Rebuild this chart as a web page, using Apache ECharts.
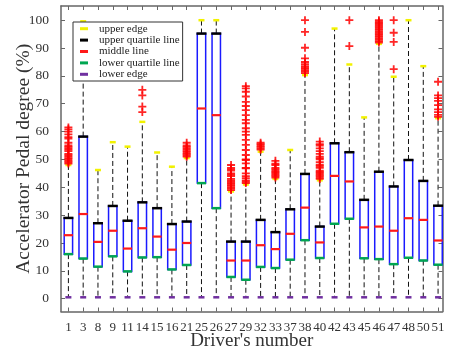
<!DOCTYPE html>
<html>
<head>
<meta charset="utf-8">
<script src="https://cdn.jsdelivr.net/npm/echarts@6/dist/echarts.min.js"></script>
<style>
  html, body { margin: 0; padding: 0; background: #fff; }
  #chart { width: 450px; height: 350px; }
</style>
</head>
<body>
<div id="chart"></div>
<script>
// Drivers along the x axis
const drivers = ['1','3','8','9','11','14','15','16','21','25','26','27','29','32','33','37','38','40','42','43','45','46','47','48','50','51'];

// Box statistics per driver (accelerator pedal degree, %)
const upperEdge     = [48.0, 99.6, 46.2, 56.2, 54.6, 63.5, 52.5, 47.4, 50.5, 100, 100, 38.5, 41.0, 52.8, 43.0, 53.4, 80.3, 42.5, 97.0, 84.1, 65.1, 91.5, 79.7, 100, 83.5, 64.8];
const upperQuartile = [29.0, 58.2, 27.1, 33.3, 28.0, 34.6, 32.5, 26.8, 27.7, 95.2, 95.2, 20.5, 20.5, 28.3, 23.9, 32.1, 44.8, 25.9, 55.8, 52.6, 35.5, 45.6, 40.3, 49.8, 42.3, 33.4];
const median        = [22.8, 30.4, 20.4, 24.4, 18.0, 25.3, 22.3, 17.6, 20.0, 68.3, 65.9, 13.7, 13.7, 19.2, 17.8, 23.3, 32.7, 20.2, 44.1, 42.1, 25.6, 25.9, 24.4, 28.9, 28.3, 20.9];
const lowerQuartile = [16.0, 14.4, 11.5, 15.2,  9.8, 14.8, 14.9, 10.5, 12.1, 41.5, 32.5,  7.8,  6.8, 11.4, 11.0, 14.0, 21.0, 14.6, 26.9, 28.7, 14.5, 14.2, 12.4, 14.7, 13.7, 12.2];
const lowerEdge     = [0.5, 0.5, 0.5, 0.5, 0.5, 0.5, 0.5, 0.5, 0.5, 0.5, 0.5, 0.5, 0.5, 0.5, 0.5, 0.5, 0.5, 0.5, 0.5, 0.5, 0.5, 0.5, 0.5, 0.5, 0.5, 0.5];

// Outlying samples per driver (same order as drivers)
const outliers = [
  [61.5, 60.8, 60, 59, 58, 57.5, 56, 55, 54.5, 54, 53.5, 53, 52, 51.5, 51, 50.5, 50, 49.5, 49, 48.5],
  [], [], [], [],
  [75, 73, 69, 67],
  [], [],
  [56, 55, 54.5, 54, 53.5, 53, 52.5, 52, 51.5, 51],
  [], [],
  [48, 47, 46.5, 46, 45, 44.5, 44, 43, 42.5, 42, 41.5, 41, 40.5, 40, 39.5, 39],
  [76.3, 75.5, 74.3, 72.6, 70.7, 69.2, 67.7, 65.9, 64.2, 63, 61.2, 60, 58.8, 57, 55.2, 53.4, 51.6, 50, 49.8, 48.6, 47, 46.8, 45, 44, 43.3, 42.5, 42, 41.5],
  [56, 55.5, 55, 54.5, 54, 53.5],
  [49.5, 48.5, 48, 47, 46.5, 46, 45.5, 45, 44.5, 44, 43.5],
  [],
  [100, 95.8, 90.1, 86.3, 85, 84.2, 83.5, 83, 82.5, 82, 81.5, 81],
  [56.4, 55.5, 55, 54, 53, 52, 51, 50.5, 50, 49, 48, 47.5, 47, 46, 45.5, 45, 44.5, 44, 43.5, 43],
  [],
  [100, 90.7],
  [],
  [100, 99.5, 99, 98.5, 98, 97.5, 97, 96.5, 96, 95.5, 95, 94.5, 94, 93.5, 93, 92.5, 92],
  [100, 95.5, 92.2, 82.4],
  [], [],
  [77.9, 73, 72, 71, 69.5, 68, 67, 66, 65.3]
];

const yTicks = [0, 10, 20, 30, 40, 50, 60, 70, 80, 90, 100];
const xTicks = drivers.map((d, i) => i + 1);

const SERIF = 'Liberation Serif, Times New Roman, serif';
const FRAME = '#666';

// Blue box with dashed whiskers
const boxData = drivers.map((d, i) => [i + 1, upperEdge[i], upperQuartile[i], median[i], lowerQuartile[i], lowerEdge[i]]);

function renderBox(params, api) {
  const x = api.value(0);
  const pUE = api.coord([x, api.value(1)]);
  const pQ3 = api.coord([x, api.value(2)]);
  const pQ1 = api.coord([x, api.value(4)]);
  const pLE = api.coord([x, api.value(5)]);
  const half = 4.2;
  const dash = { stroke: '#111', lineWidth: 1, lineDash: [5, 3] };
  return {
    type: 'group',
    children: [
      { type: 'line', shape: { x1: pQ3[0], y1: pQ3[1], x2: pUE[0], y2: pUE[1] }, style: dash },
      { type: 'line', shape: { x1: pQ1[0], y1: pQ1[1], x2: pLE[0], y2: pLE[1] }, style: dash },
      { type: 'rect', shape: { x: pQ3[0] - half, y: pQ3[1], width: half * 2, height: pQ1[1] - pQ3[1] },
        style: { fill: 'none', stroke: '#1a1aff', lineWidth: 1.5 } }
    ]
  };
}

// Short coloured bar marking one statistic on every box
function capSeries(name, values, color, w, h) {
  return {
    type: 'custom',
    name: name,
    itemStyle: { color: color },
    data: values.map((v, i) => [i + 1, v]),
    encode: { x: 0, y: 1 },
    renderItem: function (params, api) {
      const c = api.coord([api.value(0), api.value(1)]);
      return { type: 'rect', shape: { x: c[0] - w / 2, y: c[1] - h / 2, width: w, height: h }, style: { fill: color } };
    }
  };
}

const outlierData = [];
outliers.forEach((list, i) => list.forEach(v => outlierData.push([i + 1, v])));

const PLUS = 'path://M-0.9,-4H0.9V-0.9H4V0.9H0.9V4H-0.9V0.9H-4V-0.9H-0.9Z';

const xBase = {
  type: 'value', min: 0.5, max: 26.3,
  axisLine: { show: true, onZero: false, lineStyle: { color: FRAME, width: 1.5 } },
  axisTick: { show: true, inside: true, length: 4, customValues: xTicks, lineStyle: { color: FRAME } },
  splitLine: { show: false }
};
const yBase = {
  type: 'value', min: -4.6, max: 105.1,
  axisLine: { show: true, onZero: false, lineStyle: { color: FRAME, width: 1.5 } },
  axisTick: { show: true, inside: true, length: 4, customValues: yTicks, lineStyle: { color: FRAME } },
  splitLine: { show: false }
};

const chart = echarts.init(document.getElementById('chart'), null, { renderer: 'canvas' });
chart.setOption({
  animation: false,
  backgroundColor: '#fff',
  grid: { left: 61, right: 7.5, top: 6, bottom: 38.5, containLabel: false, outerBoundsMode: 'none' },
  xAxis: [
    Object.assign({}, xBase, {
      position: 'bottom',
      axisLabel: { customValues: xTicks, formatter: v => drivers[Math.round(v) - 1], fontFamily: SERIF, fontSize: 13, color: '#333', margin: 10 },
      name: "Driver's number", nameLocation: 'middle', nameGap: 20, nameMoveOverlap: false,
      nameTextStyle: { fontFamily: SERIF, fontSize: 19, color: '#333' }
    }),
    Object.assign({}, xBase, { position: 'top', axisLabel: { show: false } })
  ],
  yAxis: [
    Object.assign({}, yBase, {
      position: 'left',
      axisLabel: { customValues: yTicks, fontFamily: SERIF, fontSize: 13.5, color: '#333', margin: 12 },
      name: 'Accelerator Pedal degree (%)', nameLocation: 'middle', nameGap: 27, nameMoveOverlap: false,
      nameTextStyle: { fontFamily: SERIF, fontSize: 19.5, color: '#333' }
    }),
    Object.assign({}, yBase, { position: 'right', axisLabel: { show: false } })
  ],
  legend: {
    orient: 'vertical', left: 73, top: 22,
    data: ['upper edge', 'upper quartile line', 'middle line', 'lower quartile line', 'lower edge'],
    icon: 'rect', itemWidth: 8, itemHeight: 3, itemGap: 0,
    padding: [1, 3, 1, 7],
    borderColor: '#333', borderWidth: 1, backgroundColor: '#fff',
    selectedMode: false,
    textStyle: { fontFamily: SERIF, fontSize: 11, color: '#222', lineHeight: 11.4, padding: [0, 0, 0, 6] }
  },
  series: [
    { type: 'custom', name: 'box', data: boxData, encode: { x: 0, y: [1, 2, 3, 4, 5] }, renderItem: renderBox, silent: true },
    capSeries('upper edge', upperEdge, '#f2f200', 6, 2.5),
    capSeries('upper quartile line', upperQuartile, '#000000', 10, 2.5),
    capSeries('middle line', median, '#ff1a1a', 9, 2.2),
    capSeries('lower quartile line', lowerQuartile, '#00a651', 9, 2.5),
    capSeries('lower edge', lowerEdge, '#7030a0', 6, 2.5),
    { type: 'scatter', name: 'outliers', data: outlierData, symbol: PLUS, symbolSize: 8,
      itemStyle: { color: '#ff0000', opacity: 0.85 }, silent: true }
  ]
});
</script>
</body>
</html>
